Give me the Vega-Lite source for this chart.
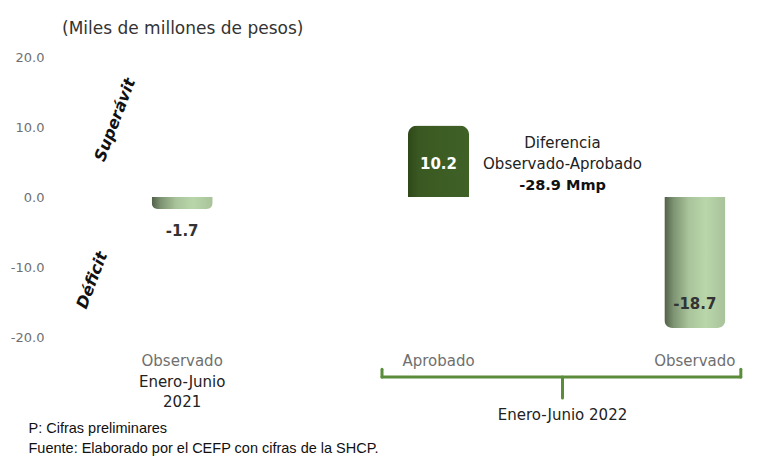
{
  "$schema": "https://vega.github.io/schema/vega-lite/v6.json",
  "width": 714,
  "height": 280,
  "autosize": {"type": "none"},
  "padding": {"left": 50, "top": 57, "right": 0, "bottom": 123},
  "background": "white",
  "config": {"view": {"stroke": null}, "font": "DejaVu Sans"},
  "title": {
    "text": "(Miles de millones de pesos)",
    "anchor": "start",
    "frame": "group",
    "dx": 12,
    "offset": 13,
    "fontSize": 17,
    "fontWeight": "normal",
    "font": "DejaVu Sans",
    "color": "#333333"
  },
  "datasets": {
    "bars": [
      {"cat": "Observado 2021", "value": -1.7, "label": "-1.7", "tipo": "Observado"},
      {"cat": "Aprobado 2022", "value": 10.2, "label": "10.2", "tipo": "Aprobado"},
      {"cat": "Observado 2022", "value": -18.7, "label": "-18.7", "tipo": "Observado"}
    ],
    "one": [{"k": 1}]
  },
  "layer": [
    {
      "data": {"name": "bars"},
      "transform": [{"filter": "datum.tipo === 'Observado'"}],
      "mark": {
        "type": "bar",
        "cornerRadiusBottomLeft": 8,
        "cornerRadiusBottomRight": 8,
        "color": {
          "gradient": "linear",
          "x1": 0, "y1": 0, "x2": 1, "y2": 0,
          "stops": [
            {"offset": 0, "color": "#515f48"},
            {"offset": 0.15, "color": "#7d9372"},
            {"offset": 0.4, "color": "#a9c39a"},
            {"offset": 0.68, "color": "#b9d6aa"},
            {"offset": 1, "color": "#a8c29a"}
          ]
        }
      },
      "encoding": {
        "x": {
          "field": "cat",
          "type": "nominal",
          "sort": ["Observado 2021", "Aprobado 2022", "Observado 2022"],
          "scale": {"domain": ["Observado 2021", "Aprobado 2022", "Observado 2022"], "range": [4, 773], "paddingInner": 0.762, "paddingOuter": 0.381},
          "axis": {
            "orient": "bottom",
            "domain": false,
            "ticks": false,
            "labelAngle": 0,
            "labelPadding": 16,
            "labelFontSize": 15,
            "labelColor": "#6f6f6f",
            "labelFont": "DejaVu Sans",
            "labelExpr": "split(datum.label, ' ')[0]",
            "title": ["P: Cifras preliminares", "Fuente: Elaborado por el CEFP con cifras de la SHCP."],
            "titleFont": "Liberation Sans",
            "titleFontSize": 14.5,
            "titleFontWeight": "normal",
            "titleColor": "#111111",
            "titleAnchor": "start",
            "titleAlign": "left",
            "titleBaseline": "middle",
            "titleLineHeight": 20,
            "titleX": -22,
            "titleY": 91
          }
        },
        "y": {
          "field": "value",
          "type": "quantitative",
          "scale": {"domain": [-20, 20], "nice": false, "zero": true},
          "axis": {
            "values": [-20, -10, 0, 10, 20],
            "format": ".1f",
            "labelExpr": "replace(datum.label, '−', '-')",
            "domain": false,
            "ticks": false,
            "grid": false,
            "labelPadding": 6,
            "labelFontSize": 13,
            "labelColor": "#707070",
            "labelFont": "DejaVu Sans",
            "title": null
          }
        }
      }
    },
    {
      "data": {"name": "bars"},
      "transform": [{"filter": "datum.tipo === 'Aprobado'"}],
      "mark": {
        "type": "bar",
        "cornerRadiusTopLeft": 9,
        "cornerRadiusTopRight": 9,
        "color": {
          "gradient": "linear",
          "x1": 0, "y1": 0, "x2": 1, "y2": 0,
          "stops": [
            {"offset": 0, "color": "#2e4819"},
            {"offset": 0.18, "color": "#3a5922"},
            {"offset": 1, "color": "#3f6126"}
          ]
        }
      },
      "encoding": {
        "x": {"field": "cat", "type": "nominal"},
        "y": {"field": "value", "type": "quantitative"}
      }
    },
    {
      "data": {"name": "bars"},
      "transform": [{"filter": "datum.cat === 'Observado 2021'"}],
      "mark": {"type": "text", "baseline": "top", "dy": 15, "fontSize": 15, "fontWeight": "bold", "color": "#333333"},
      "encoding": {
        "x": {"field": "cat", "type": "nominal"},
        "y": {"field": "value", "type": "quantitative"},
        "text": {"field": "label"}
      }
    },
    {
      "data": {"name": "bars"},
      "transform": [{"filter": "datum.cat === 'Aprobado 2022'"}],
      "mark": {"type": "text", "baseline": "middle", "dy": 38, "fontSize": 15, "fontWeight": "bold", "color": "#ffffff"},
      "encoding": {
        "x": {"field": "cat", "type": "nominal"},
        "y": {"field": "value", "type": "quantitative"},
        "text": {"field": "label"}
      }
    },
    {
      "data": {"name": "bars"},
      "transform": [{"filter": "datum.cat === 'Observado 2022'"}],
      "mark": {"type": "text", "baseline": "middle", "dy": -24, "fontSize": 15, "fontWeight": "bold", "color": "#333333"},
      "encoding": {
        "x": {"field": "cat", "type": "nominal"},
        "y": {"field": "value", "type": "quantitative"},
        "text": {"field": "label"}
      }
    },
    {
      "data": {"name": "one"},
      "mark": {"type": "text", "text": ["Diferencia", "Observado-Aprobado"], "baseline": "middle", "lineHeight": 21, "fontSize": 15, "color": "#222222", "xOffset": 124},
      "encoding": {"x": {"datum": "Aprobado 2022", "type": "nominal"}, "y": {"datum": 7.7, "type": "quantitative"}}
    },
    {
      "data": {"name": "one"},
      "mark": {"type": "text", "text": "-28.9 Mmp", "baseline": "middle", "fontSize": 14.5, "fontWeight": "bold", "color": "#111111", "xOffset": 124},
      "encoding": {"x": {"datum": "Aprobado 2022", "type": "nominal"}, "y": {"datum": 1.6, "type": "quantitative"}}
    },
    {
      "data": {"name": "one"},
      "mark": {"type": "text", "text": "Superávit", "angle": 291, "baseline": "middle", "fontSize": 16, "fontWeight": "bold", "fontStyle": "italic", "color": "#111111", "xOffset": -67},
      "encoding": {"x": {"datum": "Observado 2021", "type": "nominal"}, "y": {"datum": 11, "type": "quantitative"}}
    },
    {
      "data": {"name": "one"},
      "mark": {"type": "text", "text": "Déficit", "angle": 291, "baseline": "middle", "fontSize": 16, "fontWeight": "bold", "fontStyle": "italic", "color": "#111111", "xOffset": -90},
      "encoding": {"x": {"datum": "Observado 2021", "type": "nominal"}, "y": {"datum": -11.9, "type": "quantitative"}}
    },
    {
      "data": {"name": "one"},
      "mark": {"type": "text", "text": ["Enero-Junio", "2021"], "baseline": "top", "lineHeight": 20, "fontSize": 15, "color": "#222222"},
      "encoding": {"x": {"datum": "Observado 2021", "type": "nominal"}, "y": {"datum": -25.4, "type": "quantitative"}}
    },
    {
      "data": {"name": "one"},
      "mark": {"type": "text", "text": "Enero-Junio 2022", "baseline": "middle", "fontSize": 15, "color": "#222222", "xOffset": 124},
      "encoding": {"x": {"datum": "Aprobado 2022", "type": "nominal"}, "y": {"datum": -31.1, "type": "quantitative"}}
    },
    {
      "data": {"name": "one"},
      "mark": {"type": "rule", "color": "#5b8c3a", "strokeWidth": 3, "strokeCap": "round", "xOffset": -56.5, "x2Offset": 46},
      "encoding": {"x": {"datum": "Aprobado 2022", "type": "nominal"}, "x2": {"datum": "Observado 2022"}, "y": {"datum": -25.7, "type": "quantitative"}}
    },
    {
      "data": {"name": "one"},
      "mark": {"type": "rule", "color": "#5b8c3a", "strokeWidth": 3, "strokeCap": "round", "xOffset": -56.5},
      "encoding": {"x": {"datum": "Aprobado 2022", "type": "nominal"}, "y": {"datum": -24.6, "type": "quantitative"}, "y2": {"datum": -25.7}}
    },
    {
      "data": {"name": "one"},
      "mark": {"type": "rule", "color": "#5b8c3a", "strokeWidth": 3, "strokeCap": "round", "xOffset": 46},
      "encoding": {"x": {"datum": "Observado 2022", "type": "nominal"}, "y": {"datum": -24.6, "type": "quantitative"}, "y2": {"datum": -25.7}}
    },
    {
      "data": {"name": "one"},
      "mark": {"type": "rule", "color": "#5b8c3a", "strokeWidth": 3, "strokeCap": "round", "xOffset": 124},
      "encoding": {"x": {"datum": "Aprobado 2022", "type": "nominal"}, "y": {"datum": -25.7, "type": "quantitative"}, "y2": {"datum": -28.7}}
    }
  ]
}
